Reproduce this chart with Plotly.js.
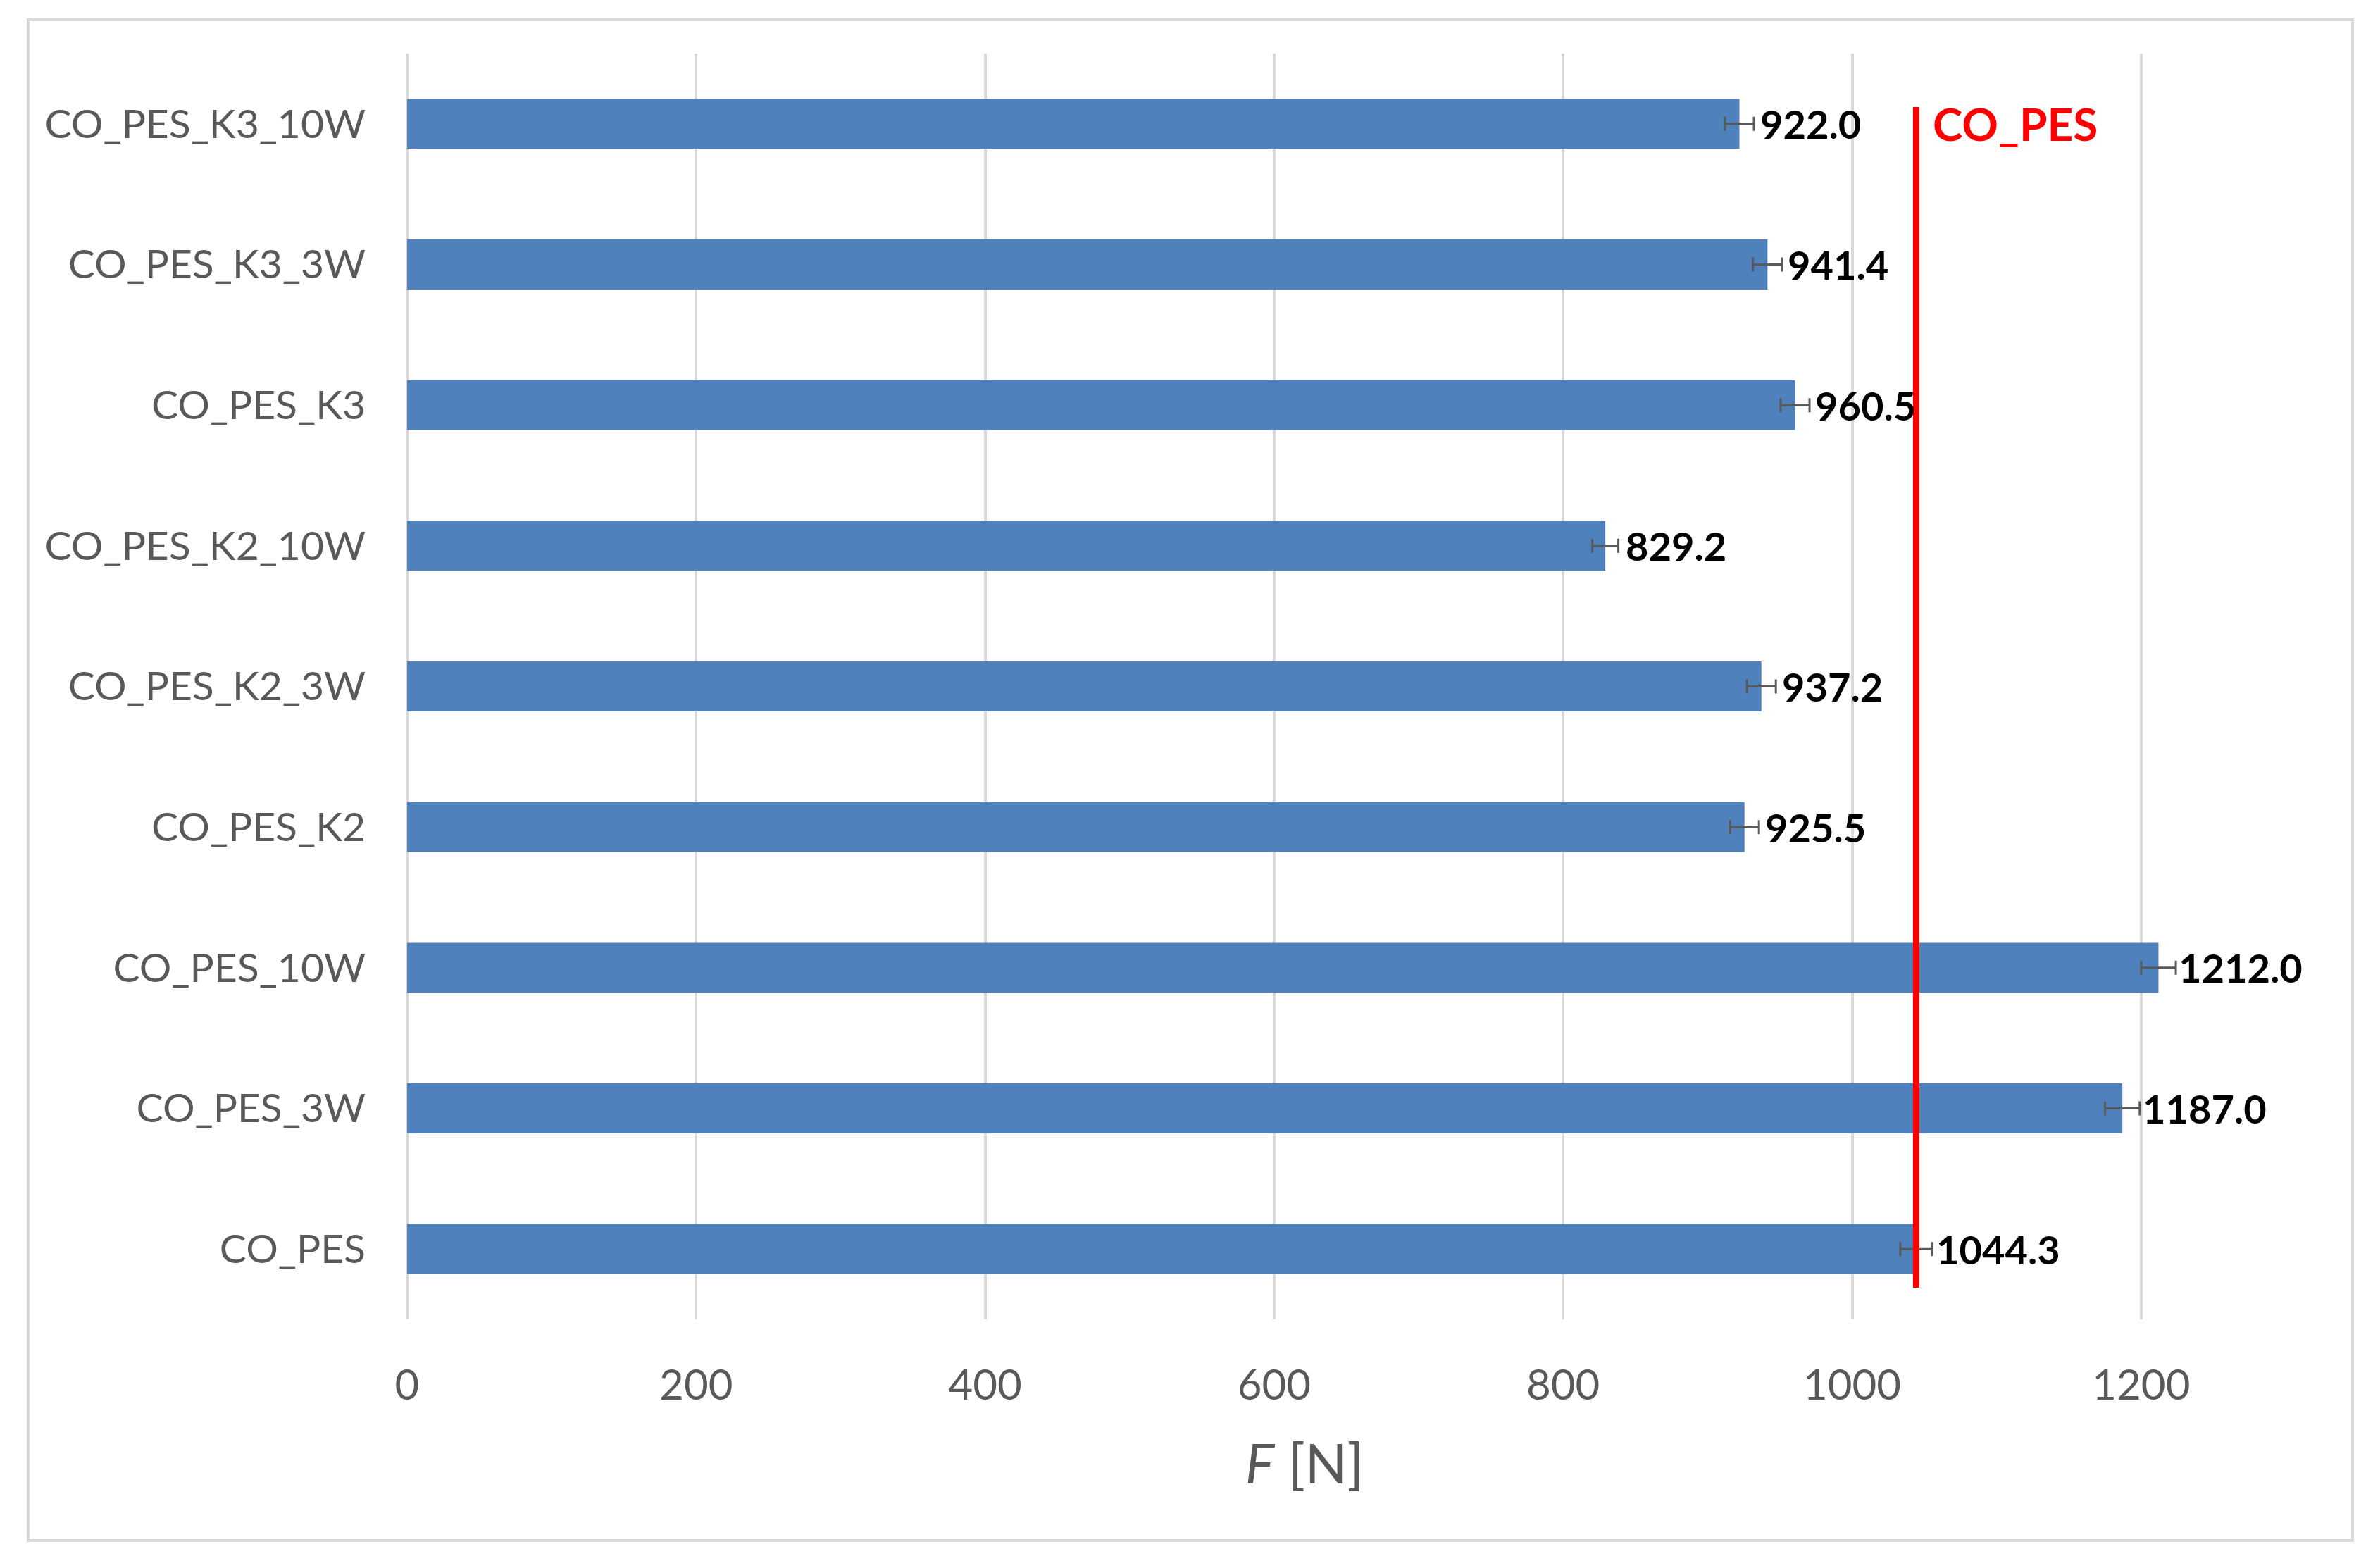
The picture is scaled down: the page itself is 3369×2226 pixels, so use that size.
<!DOCTYPE html>
<html>
<head>
<meta charset="utf-8">
<script src="https://cdn.plot.ly/plotly-3.0.1.min.js"></script>
<style>
  html, body { margin: 0; padding: 0; background: #ffffff; }
  #chart { width: 3369px; height: 2226px; }
</style>
</head>
<body>
<div id="chart"></div>
<script>
// ---- Data (bottom to top) ----
const categories = ["CO_PES", "CO_PES_3W", "CO_PES_10W", "CO_PES_K2", "CO_PES_K2_3W",
                    "CO_PES_K2_10W", "CO_PES_K3", "CO_PES_K3_3W", "CO_PES_K3_10W"];
const forceValues = [1044.3, 1187.0, 1212.0, 925.5, 937.2, 829.2, 960.5, 941.4, 922.0];
const forceErrors = [11, 12, 12, 10, 10, 9, 10, 10, 10];
const valueLabels = ["1044.3", "1187.0", "1212.0", "925.5", "937.2", "829.2", "960.5", "941.4", "922.0"];
const referenceName = "CO_PES";
const referenceValue = forceValues[categories.indexOf(referenceName)];
const xTickValues = [0, 200, 400, 600, 800, 1000, 1200];

// ---- Layout geometry (pixels) ----
const W = 3369, H = 2226;
const M = { l: 578, r: 243, t: 76, b: 353 };
const plotW = W - M.l - M.r, plotH = H - M.t - M.b;
const px2paperX = p => (p - M.l) / plotW;
const px2paperY = p => (H - M.b - p) / plotH;

const FONT = "Lato, 'Open Sans', sans-serif";
const GREY = "#595959";

const bars = {
  type: "bar",
  orientation: "h",
  y: categories,
  x: forceValues,
  marker: { color: "#4F81BD" },
  error_x: { type: "data", array: forceErrors, visible: true, color: GREY, thickness: 3, width: 10 },
  hoverinfo: "x+y",
  showlegend: false
};

const annotations = categories.map((c, i) => ({
  x: forceValues[i], y: c, xref: "x", yref: "y",
  text: valueLabels[i], showarrow: false,
  xanchor: "left", yanchor: "middle", xshift: 27,
  font: { family: FONT, size: 56, color: "#000000", weight: 700 }
}));
annotations.push({
  x: referenceValue, y: categories[categories.length - 1], xref: "x", yref: "y",
  text: "<b>" + referenceName + "</b>", showarrow: false,
  xanchor: "left", yanchor: "middle", xshift: 22,
  font: { family: FONT, size: 64, color: "#FF0000" }
});

const layout = {
  width: W, height: H,
  margin: M,
  paper_bgcolor: "#ffffff",
  plot_bgcolor: "#ffffff",
  bargap: 0.645,
  font: { family: FONT, color: GREY },
  xaxis: {
    range: [0, 1242],
    tickvals: xTickValues,
    ticktext: xTickValues.map(String),
    showgrid: true, gridcolor: "#D9D9D9", gridwidth: 4,
    zeroline: true, zerolinecolor: "#D9D9D9", zerolinewidth: 4,
    showline: false, ticks: "",
    tickfont: { family: FONT, size: 60, color: GREY },
    ticklabelstandoff: 53,
    title: { text: "<i>F</i> [N]", font: { family: FONT, size: 78, color: GREY }, standoff: 52 }
  },
  yaxis: {
    type: "category",
    categoryorder: "array", categoryarray: categories,
    range: [-0.5, categories.length - 0.5],
    showgrid: false, zeroline: false, showline: false, ticks: "",
    tickfont: { family: FONT, size: 57, color: GREY },
    ticklabelstandoff: 58
  },
  shapes: [
    { type: "line", xref: "x", yref: "paper",
      x0: referenceValue, x1: referenceValue, y0: px2paperY(1828), y1: px2paperY(152),
      line: { color: "#FF0000", width: 9 } },
    { type: "rect", xref: "paper", yref: "paper", layer: "below",
      x0: px2paperX(40), x1: px2paperX(3340), y0: px2paperY(2187), y1: px2paperY(28),
      line: { color: "#D9D9D9", width: 4 }, fillcolor: "rgba(0,0,0,0)" }
  ],
  annotations: annotations
};

Plotly.newPlot("chart", [bars], layout, { staticPlot: true, displayModeBar: false });
</script>
</body>
</html>
